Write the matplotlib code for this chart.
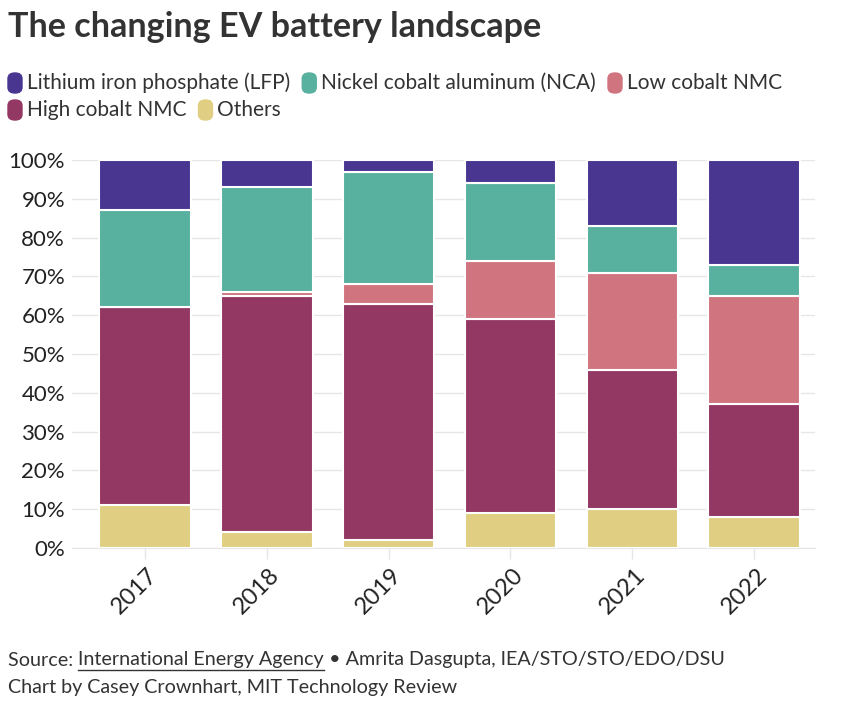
import matplotlib.pyplot as plt
import matplotlib.transforms as mtransforms
import numpy as np
from matplotlib.patches import FancyBboxPatch
from matplotlib.lines import Line2D

plt.rcParams['font.family'] = ['Lato', 'DejaVu Sans']

years = ['2017', '2018', '2019', '2020', '2021', '2022']
others = [11, 4, 2, 9, 10, 8]
high_cobalt = [51, 61, 61, 50, 36, 29]
low_cobalt = [0, 1, 5, 15, 25, 28]
nca = [25, 27, 29, 20, 12, 8]
lfp = [13, 7, 3, 6, 17, 27]

series = [
    ('Others', others, '#e0cf82'),
    ('High cobalt NMC', high_cobalt, '#933763'),
    ('Low cobalt NMC', low_cobalt, '#d07580'),
    ('Nickel cobalt aluminum (NCA)', nca, '#58b09f'),
    ('Lithium iron phosphate (LFP)', lfp, '#483691'),
]
legend_rows = [
    ['Lithium iron phosphate (LFP)', 'Nickel cobalt aluminum (NCA)', 'Low cobalt NMC'],
    ['High cobalt NMC', 'Others'],
]
colors = {name: c for name, _, c in series}

W, H = 861, 714
fig = plt.figure(figsize=(W / 100, H / 100), dpi=100)
ax = fig.add_axes([72 / W, 1 - 548 / H, (815 - 72) / W, (548 - 160) / H])

x = np.arange(len(years))
bottom = np.zeros(len(years))
for name, vals, c in series:
    vals = np.array(vals, dtype=float)
    ax.bar(x, vals, bottom=bottom, width=0.75, color=c, edgecolor='white',
           linewidth=1.5, zorder=3)
    bottom += vals

ax.set_ylim(0, 100)
ax.set_xlim(-0.6, 5.5)
ax.set_yticks(range(0, 101, 10))
ax.set_yticklabels([f'{v}%' for v in range(0, 101, 10)], fontsize=16, color='#222222')
ax.set_xticks(x)
ax.set_xticklabels(years, rotation=45, fontsize=17, color='#222222',
                   ha='center', va='top')
ax.tick_params(axis='y', length=0, pad=5)
ax.tick_params(axis='x', length=8, color='#e6e6e6', width=1, pad=4)
# nudge year labels a bit left, like the original
shift = mtransforms.ScaledTranslation(-10 / 100, 0, fig.dpi_scale_trans)
for lab in ax.get_xticklabels():
    lab.set_transform(lab.get_transform() + shift)
ax.grid(axis='y', color='#e6e6e6', linewidth=1, zorder=0)
for s in ['top', 'right', 'left']:
    ax.spines[s].set_visible(False)
ax.spines['bottom'].set_color('#e6e6e6')

fig.text(8 / W, 1 - 27 / H, 'The changing EV battery landscape', fontsize=24.6,
         fontweight='bold', color='#333333', va='center', ha='left')

fig.canvas.draw()
renderer = fig.canvas.get_renderer()

# legend drawn by hand
row_y = [83, 110]
for row, yy in zip(legend_rows, row_y):
    xx = 8
    for name in row:
        fig.patches.append(FancyBboxPatch((xx / W, (H - yy - 10) / H), 14 / W, 20 / H,
                                          boxstyle='round,pad=0,rounding_size=0.008',
                                          transform=fig.transFigure, color=colors[name],
                                          figure=fig))
        t = fig.text((xx + 19) / W, 1 - yy / H, name, fontsize=15, color='#333333',
                     va='center', ha='left')
        bb = t.get_window_extent(renderer)
        xx = bb.x1 + 12

# caption
parts = [('Source: ', False), ('International Energy Agency', True),
         (' \u2022 Amrita Dasgupta, IEA/STO/STO/EDO/DSU', False)]
xx = 8
for txt, ul in parts:
    t = fig.text(xx / W, 1 - 660 / H, txt, fontsize=14.2, color='#333333',
                 va='center', ha='left')
    bb = t.get_window_extent(renderer)
    if ul:
        fig.add_artist(Line2D([bb.x0 / W, bb.x1 / W], [(H - 670) / H, (H - 670) / H],
                              transform=fig.transFigure, color='#333333', linewidth=1))
    xx = bb.x1
fig.text(8 / W, 1 - 687 / H, 'Chart by Casey Crownhart, MIT Technology Review',
         fontsize=14.2, color='#333333', va='center', ha='left')

fig.savefig('out.png', dpi=100)
